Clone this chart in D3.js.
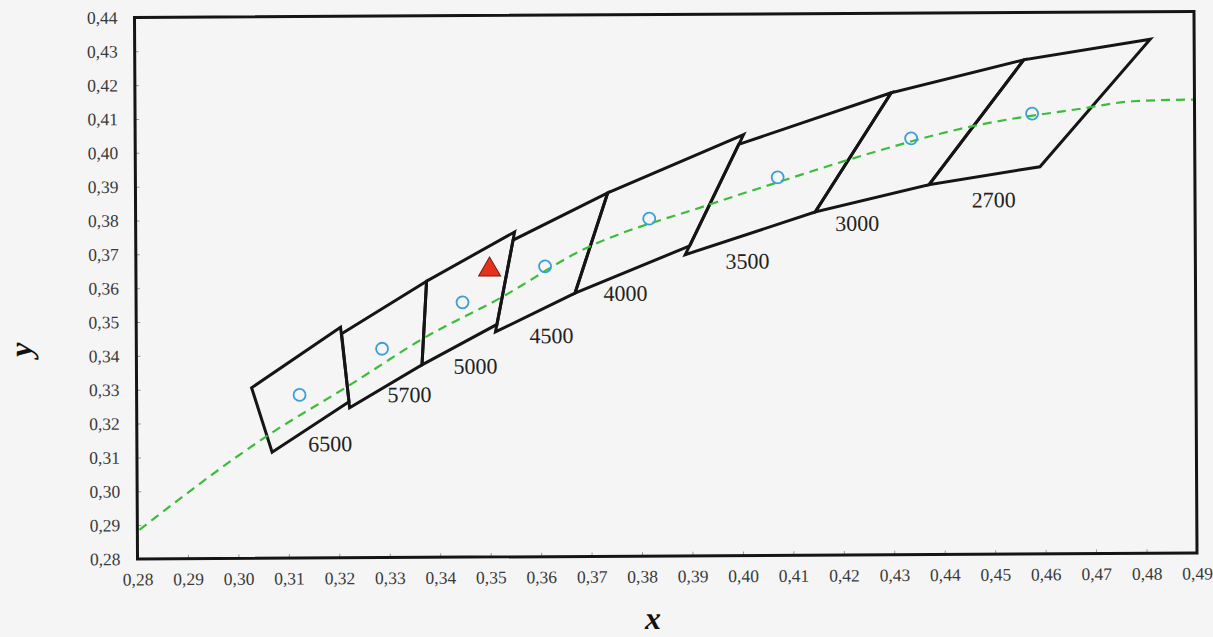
<!DOCTYPE html>
<html>
<head>
<meta charset="utf-8">
<script src="https://cdn.jsdelivr.net/npm/d3@7"></script>
<style>
  body { margin: 0; background: #f5f5f5; }
  svg { display: block; font-family: 'Liberation Serif', 'Times New Roman', serif; }
</style>
</head>
<body>
<div id="chart"></div>
<script>
const cct = ['6500', '5700', '5000', '4500', '4000', '3500', '3000', '2700']

// quadrangle corners: top-right, top-left, bottom-left, bottom-right
const quadX = [
  [0.3205, 0.3028, 0.3068, 0.3221],
  [0.3376, 0.3207, 0.3222, 0.3366],
  [0.3551, 0.3376, 0.3366, 0.3515],
  [0.3736, 0.3548, 0.3512, 0.3670],
  [0.4006, 0.3736, 0.3670, 0.3898],
  [0.4299, 0.3996, 0.3889, 0.4147],
  [0.4562, 0.4299, 0.4147, 0.4373],
  [0.4813, 0.4562, 0.4373, 0.4593]
]
const quadY = [
  [0.3481, 0.3304, 0.3113, 0.3261],
  [0.3616, 0.3462, 0.3243, 0.3369],
  [0.3760, 0.3616, 0.3369, 0.3487],
  [0.3874, 0.3736, 0.3465, 0.3578],
  [0.4044, 0.3874, 0.3578, 0.3716],
  [0.4165, 0.4015, 0.3690, 0.3814],
  [0.4260, 0.4165, 0.3814, 0.3893],
  [0.4319, 0.4260, 0.3893, 0.3944]
]
const centerX = [0.3123, 0.3287, 0.3447, 0.3611, 0.3818, 0.4073, 0.4338, 0.4578]
const centerY = [0.3282, 0.3417, 0.3553, 0.3658, 0.3797, 0.3917, 0.4030, 0.4101]
const labelX = [0.3183, 0.3341, 0.3472, 0.3623, 0.3770, 0.4012, 0.4230, 0.4501]
const labelY = [0.3137, 0.3281, 0.3364, 0.3453, 0.3577, 0.3670, 0.3780, 0.3847]

const locusX = [0.2804, 0.3066, 0.3218, 0.3376, 0.3522, 0.3680, 0.3938, 0.4070, 0.4203, 0.4460, 0.4685, 0.4778, 0.4897]
const locusY = [0.2886, 0.3169, 0.3306, 0.3453, 0.3565, 0.3702, 0.3838, 0.3901, 0.3963, 0.4065, 0.4117, 0.4136, 0.4140]

const sampleX = [0.3501]
const sampleY = [0.3649]

const xTicks = [0.28, 0.29, 0.30, 0.31, 0.32, 0.33, 0.34, 0.35, 0.36, 0.37, 0.38, 0.39, 0.40, 0.41, 0.42, 0.43, 0.44, 0.45, 0.46, 0.47, 0.48, 0.49]
const yTicks = [0.28, 0.29, 0.30, 0.31, 0.32, 0.33, 0.34, 0.35, 0.36, 0.37, 0.38, 0.39, 0.40, 0.41, 0.42, 0.43, 0.44]

const width = 1213
const height = 637
const marginLeft = 136
const marginRight = 17.5
const marginTop = 14.5
const marginBottom = 81

const fmt = d => d3.format('.2f')(d).replace('.', ',')

const xScale = d3.scaleLinear([0.28, 0.49], [marginLeft, width - marginRight])
const yScale = d3.scaleLinear([0.28, 0.44], [height - marginBottom, marginTop])

const svg = d3.create('svg')
  .attr('width', width)
  .attr('height', height)
  .attr('viewBox', [0, 0, width, height])

// the scanned figure is tilted a little
const root = svg.append('g')
  .attr('transform', 'rotate(-0.32, 665, 285)')

root.append('defs').append('clipPath')
  .attr('id', 'plotClip')
  .append('rect')
  .attr('x', marginLeft)
  .attr('y', marginTop)
  .attr('width', width - marginLeft - marginRight)
  .attr('height', height - marginTop - marginBottom)

root.append('g')
  .attr('transform', `translate(0, ${height - marginBottom})`)
  .call(d3.axisBottom(xScale).tickValues(xTicks).tickFormat(fmt).tickSize(-4).tickPadding(14))
  .attr('font-family', 'inherit')
  .attr('font-size', 17.5)
  .call(g => g.select('.domain').remove())
  .call(g => g.selectAll('.tick line').attr('stroke', '#999'))
  .call(g => g.selectAll('.tick text').attr('fill', '#3a3a3a'))

root.append('g')
  .attr('transform', `translate(${marginLeft}, 0)`)
  .call(d3.axisLeft(yScale).tickValues(yTicks).tickFormat(fmt).tickSize(-4).tickPadding(17))
  .attr('font-family', 'inherit')
  .attr('font-size', 17.5)
  .call(g => g.select('.domain').remove())
  .call(g => g.selectAll('.tick line').attr('stroke', '#999'))
  .call(g => g.selectAll('.tick text').attr('fill', '#3a3a3a'))

const plot = root.append('g')
  .attr('clip-path', 'url(#plotClip)')

const quads = d3.range(cct.length).map(i => quadX[i].map((x, j) => [x, quadY[i][j]]))

plot.selectAll('path.quad')
  .data(quads)
  .join('path')
  .attr('class', 'quad')
  .attr('fill', 'none')
  .attr('stroke', '#151515')
  .attr('stroke-width', 3)
  .attr('stroke-linejoin', 'miter')
  .attr('d', d => d3.line().x(p => xScale(p[0])).y(p => yScale(p[1]))(d) + 'Z')

const locus = d3.line()
  .curve(d3.curveMonotoneX)
  .x(i => xScale(locusX[i]))
  .y(i => yScale(locusY[i]))

plot.append('path')
  .attr('fill', 'none')
  .attr('stroke', '#3cbd3a')
  .attr('stroke-width', 2.2)
  .attr('stroke-dasharray', '9, 6')
  .attr('d', locus(d3.range(locusX.length)))

plot.selectAll('circle')
  .data(centerX)
  .join('circle')
  .attr('cx', d => xScale(d))
  .attr('cy', (_, i) => yScale(centerY[i]))
  .attr('r', 6)
  .attr('fill', 'none')
  .attr('stroke', '#3a9fd6')
  .attr('stroke-width', 1.8)

plot.selectAll('path.sample')
  .data(sampleX)
  .join('path')
  .attr('class', 'sample')
  .attr('transform', (d, i) => `translate(${xScale(d)}, ${yScale(sampleY[i])})`)
  .attr('d', d3.symbol(d3.symbolTriangle, 210))
  .attr('fill', '#e5321f')
  .attr('stroke', '#7a1a10')
  .attr('stroke-width', 1)

plot.selectAll('text.cct')
  .data(cct)
  .join('text')
  .attr('class', 'cct')
  .attr('x', (_, i) => xScale(labelX[i]))
  .attr('y', (_, i) => yScale(labelY[i]))
  .attr('text-anchor', 'middle')
  .attr('dominant-baseline', 'central')
  .attr('font-size', 22)
  .attr('fill', '#222')
  .text(d => d)

root.append('rect')
  .attr('x', marginLeft)
  .attr('y', marginTop)
  .attr('width', width - marginLeft - marginRight)
  .attr('height', height - marginTop - marginBottom)
  .attr('fill', 'none')
  .attr('stroke', '#151515')
  .attr('stroke-width', 3)

root.append('text')
  .attr('x', 651)
  .attr('y', 629)
  .attr('text-anchor', 'middle')
  .attr('font-size', 32)
  .attr('font-style', 'italic')
  .attr('font-weight', 'bold')
  .attr('fill', '#111')
  .text('x')

root.append('text')
  .attr('transform', 'translate(31, 346) rotate(-90)')
  .attr('text-anchor', 'middle')
  .attr('font-size', 32)
  .attr('font-style', 'italic')
  .attr('font-weight', 'bold')
  .attr('fill', '#111')
  .text('y')

d3.select('#chart').append(() => svg.node())
</script>
</body>
</html>
